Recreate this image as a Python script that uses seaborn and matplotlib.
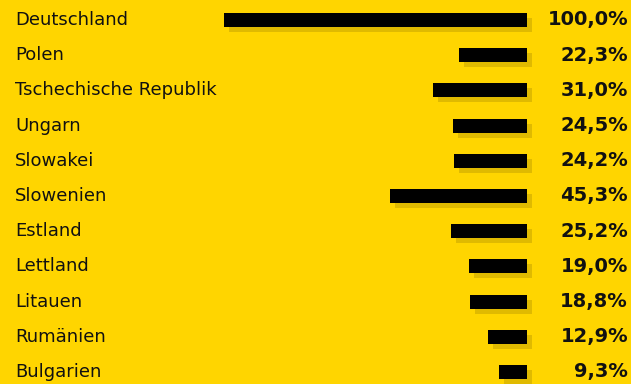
import matplotlib
matplotlib.use("Agg")
import matplotlib.pyplot as plt
import matplotlib.patheffects as pe
import seaborn as sns
import pandas as pd

countries = ["Deutschland", "Polen", "Tschechische Republik", "Ungarn", "Slowakei",
             "Slowenien", "Estland", "Lettland", "Litauen", "Rumänien", "Bulgarien"]
values = [100.0, 22.3, 31.0, 24.5, 24.2, 45.3, 25.2, 19.0, 18.8, 12.9, 9.3]
value_labels = ["100,0%", "22,3%", "31,0%", "24,5%", "24,2%", "45,3%", "25,2%",
                "19,0%", "18,8%", "12,9%", "9,3%"]

BG = "#FFD500"
SHADOW = "#E0BA00"

df = pd.DataFrame({"country": countries, "value": values})

sns.set_theme(style="white")
plt.rcParams["font.family"] = ["DejaVu Sans"]

fig = plt.figure(figsize=(6.31, 3.84), dpi=100, facecolor=BG)
ax = fig.add_axes([0, 0, 1, 1])
ax.set_facecolor(BG)

sns.barplot(data=df, x="value", y="country", orient="h", color="black",
            width=0.4, ax=ax, saturation=1)

for p in ax.patches:
    p.set_linewidth(0)
    p.set_path_effects([pe.SimplePatchShadow(offset=(3.6, -3.6), shadow_rgbFace=SHADOW, alpha=1.0),
                        pe.Normal()])

ax.set_xlim(173.9, -34.3)
ax.set_ylim(10.34, -0.568)
ax.axis("off")

for i, (c, lab) in enumerate(zip(countries, value_labels)):
    ax.text(15 / 631, 1 - (20 + 35.2 * i) / 384, c, transform=ax.transAxes,
            ha="left", va="center", fontsize=13, color="#111111")
    ax.text(628 / 631, 1 - (20 + 35.2 * i) / 384, lab, transform=ax.transAxes,
            ha="right", va="center", fontsize=14, fontweight="bold", color="#111111")

fig.savefig("out.png", dpi=100, facecolor=BG)
